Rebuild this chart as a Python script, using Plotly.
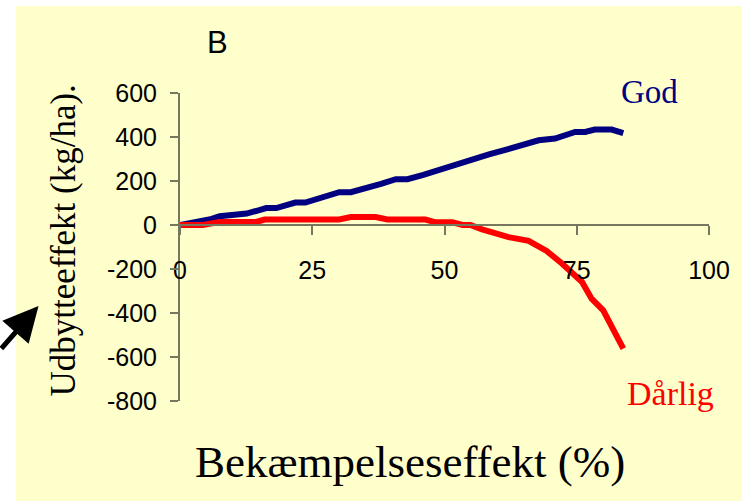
import plotly.graph_objects as go

# Bekæmpelseseffekt (%) and yield effect (kg/ha) for the two cases
god_x = [0, 2, 4, 6, 7.5, 10, 12.6, 15, 16.3, 18.2, 20, 21.8, 23.7, 26, 28, 30.1, 32.3,
         35, 38, 40.8, 43, 46, 49, 51, 53.4, 56, 58.4, 61, 64, 66, 67.8, 70.9, 73,
         74.7, 76.6, 78.4, 81.6, 83.8]
god_y = [0, 8, 14, 28, 40, 45, 52, 68, 77, 77, 90, 102, 102, 118, 132, 149, 149,
         165, 187, 208, 208, 228, 252, 262, 287, 305, 321, 338, 359, 374, 385, 393, 408,
         423, 423, 434, 434, 418]

darlig_x = [0, 4.3, 7.5, 14.4, 16, 30.1, 32.3, 37, 39.2, 46.4, 48.3, 51.5, 53.4, 54.9,
            57.1, 60.3, 62.1, 65.9, 69.3, 72.2, 76, 77.8, 80, 83.8]
darlig_y = [0, 0, 14, 14, 25, 25, 36, 36, 25, 25, 12, 12, 0, 0,
            -20, -45, -55, -72, -118, -175, -259, -335, -388, -562]

x_ticks = [0, 25, 50, 75, 100]
y_ticks = [-800, -600, -400, -200, 0, 200, 400, 600]
y_tick_text = ["-800", "-600", "-400", "-200", "0", "200", "400", "600"]

BG = "#FFFFCC"
AXIS = "#77775f"
SERIF = "Liberation Serif, Times New Roman, serif"
SANS = "Liberation Sans, Arial, sans-serif"

fig = go.Figure()
fig.add_trace(go.Scatter(x=god_x, y=god_y, mode="lines", name="God",
                         line=dict(color="#000080", width=6)))
fig.add_trace(go.Scatter(x=darlig_x, y=darlig_y, mode="lines", name="Dårlig",
                         line=dict(color="#FF0000", width=6)))

W, H = 742, 501
L, R, T, B = 180, 31, 93, 100
pw, ph = W - L - R, H - T - B


def px(xp):
    return (xp - L) / pw


def py(yp):
    return (H - B - yp) / ph


def label(text, x, y, size, family, color="black", angle=0):
    return dict(text=text, xref="paper", yref="paper", x=px(x), y=py(y),
                xanchor="center", yanchor="middle", textangle=angle,
                showarrow=False, font=dict(family=family, size=size, color=color))


fig.update_layout(
    width=W, height=H,
    margin=dict(l=L, r=R, t=T, b=B),
    paper_bgcolor=BG, plot_bgcolor=BG,
    showlegend=False,
    xaxis=dict(range=[0, 100], tickvals=x_ticks, ticks="outside", ticklen=9,
               tickwidth=2, tickcolor=AXIS, showline=True, linecolor=AXIS,
               linewidth=2, showgrid=False, zeroline=False,
               anchor="free", position=800 / 1400, ticklabelstandoff=14,
               tickfont=dict(family=SANS, size=25, color="black")),
    yaxis=dict(range=[-800, 600], tickvals=y_ticks, ticktext=y_tick_text,
               ticks="outside", ticklen=8,
               tickwidth=2, tickcolor=AXIS, showline=True, linecolor=AXIS,
               linewidth=2, showgrid=False, zeroline=False, ticklabelstandoff=8,
               tickfont=dict(family=SANS, size=25, color="black")),
    shapes=[
        dict(type="rect", xref="paper", yref="paper", x0=px(-5), x1=px(15),
             y0=py(H + 5), y1=py(-5), fillcolor="white", line=dict(width=0), layer="below"),
        dict(type="rect", xref="paper", yref="paper", x0=px(-5), x1=px(W + 5),
             y0=py(6), y1=py(-5), fillcolor="white", line=dict(width=0), layer="below"),
    ],
    annotations=[
        label("B", 218, 42, 31, SANS),
        label("God", 651, 92, 33, SERIF, "#000080"),
        label("Dårlig", 672, 393, 34, SERIF, "#FF0000"),
        label("Bekæmpelseseffekt (%)", 411, 462, 45, SERIF),
        label("Udbytteeffekt (kg/ha).", 63, 240, 35, SERIF, angle=-90),
        dict(text="", xref="paper", yref="paper", x=px(38), y=py(306),
             showarrow=True, arrowhead=2, arrowsize=1.4, arrowwidth=5,
             arrowcolor="black", ax=-46, ay=44, standoff=0),
    ],
)

fig.write_html("out.html")
